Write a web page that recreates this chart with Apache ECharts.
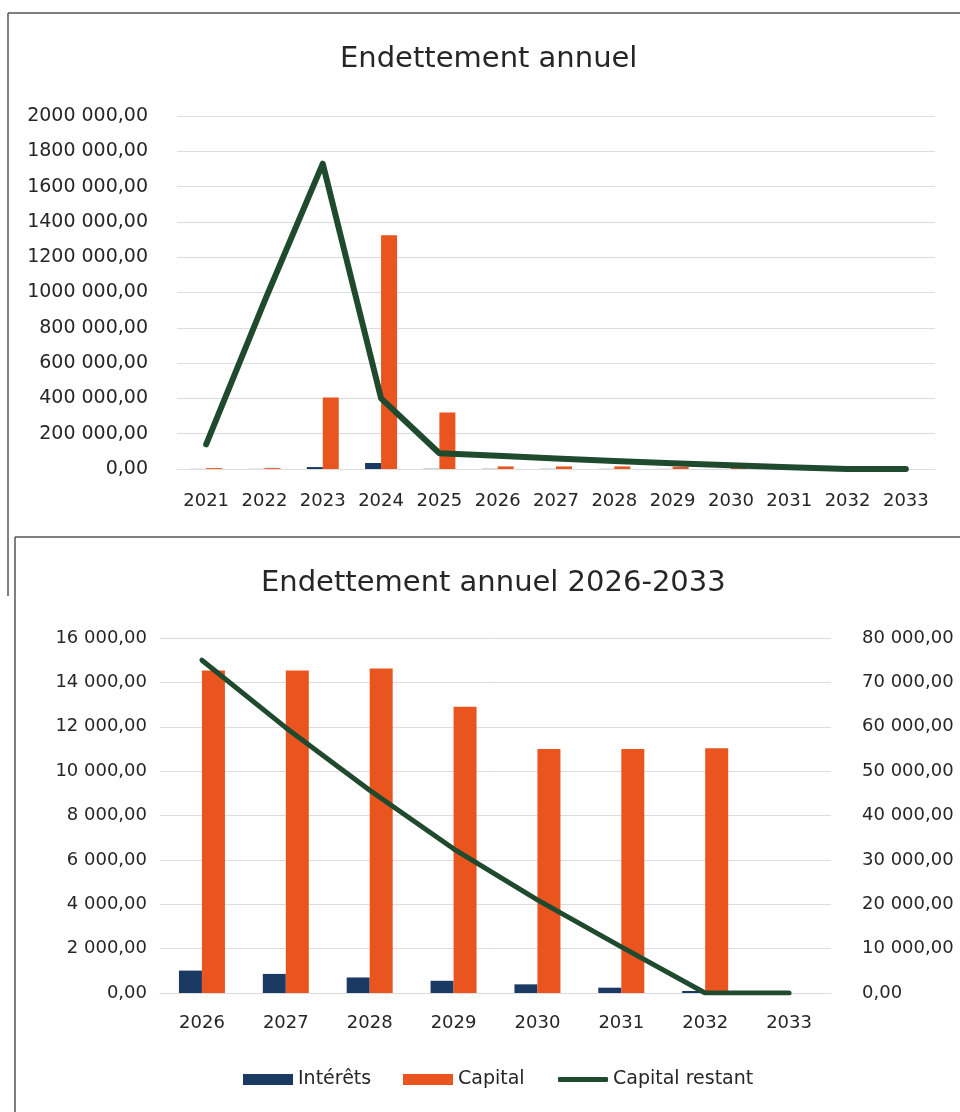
<!DOCTYPE html>
<html>
<head>
<meta charset="utf-8">
<script src="https://cdn.jsdelivr.net/npm/echarts@6/dist/echarts.min.js"></script>
<style>
html,body{margin:0;padding:0;background:#fff;}
#c{width:960px;height:1112px;}
</style>
</head>
<body>
<div id="c"></div>
<script>
// ---- Data ----
const yearsAll = ['2021','2022','2023','2024','2025','2026','2027','2028','2029','2030','2031','2032','2033'];
const interetsAll = [500, 500, 11000, 34000, 1200, 1010, 860, 700, 550, 390, 240, 90, 0];
const capitalAll = [5000, 5000, 405000, 1325000, 320000, 14540, 14540, 14630, 12900, 11000, 11000, 11030, 0];
const restantAll = [140000, 950000, 1730000, 400000, 89000, 75000, 59800, 45700, 32500, 21000, 10400, 0, 0];

const years2 = ['2026','2027','2028','2029','2030','2031','2032','2033'];
const interets2 = [1010, 860, 700, 550, 390, 240, 90, 0];
const capital2 = [14540, 14540, 14630, 12900, 11000, 11000, 11030, 0];
const restant2 = [75000, 59800, 45700, 32500, 21000, 10400, 0, 0];

const title1 = 'Endettement annuel';
const title2 = 'Endettement annuel 2026-2033';
const seriesNames = ['Intérêts', 'Capital', 'Capital restant'];

// ---- Styles ----
const C_INT = '#1B3A63';
const C_CAP = '#E9541F';
const C_RES = '#1F4A2E';
const FONT = 'DejaVu Sans';
const TXT = '#262626';
const GRID = '#DCDCDC';

function fmt(v) {
  if (v === 0) return '0,00';
  return Math.floor(v / 1000) + ' 000,00';
}

const chart = echarts.init(document.getElementById('c'), null, {renderer: 'canvas'});

const axisLabelX = {fontFamily: FONT, fontSize: 18, color: TXT, interval: 0};
const legendText = {fontFamily: FONT, fontSize: 19, color: TXT};

chart.setOption({
  animation: false,
  backgroundColor: '#fff',
  textStyle: {fontFamily: FONT},
  title: [
    {text: title1, left: 335, top: 40, textStyle: {fontFamily: FONT, fontSize: 29, fontWeight: 'normal', color: TXT}},
    {text: title2, left: 256, top: 564, textStyle: {fontFamily: FONT, fontSize: 29, fontWeight: 'normal', color: TXT}}
  ],
  legend: [
    {data: [seriesNames[0]], left: 238, top: 1065, icon: 'rect', itemWidth: 50, itemHeight: 11, textStyle: legendText},
    {data: [seriesNames[1]], left: 398, top: 1065, icon: 'rect', itemWidth: 50, itemHeight: 11, textStyle: legendText},
    {data: [seriesNames[2]], left: 553, top: 1065, icon: 'roundRect', itemWidth: 50, itemHeight: 5, textStyle: legendText}
  ],
  graphic: [
    {type: 'line', shape: {x1: 8, y1: 13, x2: 960, y2: 13}, style: {stroke: '#555', lineWidth: 1.5}, silent: true},
    {type: 'line', shape: {x1: 8, y1: 13, x2: 8, y2: 596}, style: {stroke: '#555', lineWidth: 1.5}, silent: true},
    {type: 'line', shape: {x1: 15, y1: 537, x2: 960, y2: 537}, style: {stroke: '#555', lineWidth: 1.5}, silent: true},
    {type: 'line', shape: {x1: 15, y1: 537, x2: 15, y2: 1112}, style: {stroke: '#555', lineWidth: 1.5}, silent: true}
  ],
  grid: [
    {left: 177, right: 25, top: 116, height: 353, containLabel: false},
    {left: 160, right: 129, top: 638, height: 355, containLabel: false}
  ],
  xAxis: [
    {type: 'category', gridIndex: 0, data: yearsAll,
     axisTick: {show: false}, axisLine: {lineStyle: {color: GRID, width: 1}},
     axisLabel: Object.assign({margin: 23}, axisLabelX)},
    {type: 'category', gridIndex: 1, data: years2,
     axisTick: {show: false}, axisLine: {lineStyle: {color: GRID, width: 1}},
     axisLabel: Object.assign({margin: 21}, axisLabelX)}
  ],
  yAxis: [
    {type: 'value', gridIndex: 0, min: 0, max: 2000000, interval: 200000,
     axisLine: {show: false}, axisTick: {show: false},
     splitLine: {lineStyle: {color: GRID, width: 1}},
     axisLabel: {margin: 29, fontFamily: FONT, fontSize: 19, color: TXT, formatter: fmt}},
    {type: 'value', gridIndex: 1, min: 0, max: 16000, interval: 2000,
     axisLine: {show: false}, axisTick: {show: false},
     splitLine: {lineStyle: {color: GRID, width: 1}},
     axisLabel: {margin: 13, fontFamily: FONT, fontSize: 18, color: TXT, formatter: fmt}},
    {type: 'value', gridIndex: 1, position: 'right', min: 0, max: 80000, interval: 10000,
     axisLine: {show: false}, axisTick: {show: false},
     splitLine: {show: false},
     axisLabel: {margin: 31, fontFamily: FONT, fontSize: 18, color: TXT, formatter: fmt}}
  ],
  series: [
    {name: seriesNames[0], type: 'bar', xAxisIndex: 0, yAxisIndex: 0, data: interetsAll,
     barWidth: 16, barGap: '0%', itemStyle: {color: C_INT}},
    {name: seriesNames[1], type: 'bar', xAxisIndex: 0, yAxisIndex: 0, data: capitalAll,
     barWidth: 16, barGap: '0%', itemStyle: {color: C_CAP}},
    {name: seriesNames[2], type: 'line', xAxisIndex: 0, yAxisIndex: 0, data: restantAll,
     symbol: 'none', lineStyle: {color: C_RES, width: 6, cap: 'round', join: 'round'}, itemStyle: {color: C_RES}},

    {name: seriesNames[0], type: 'bar', xAxisIndex: 1, yAxisIndex: 1, data: interets2,
     barWidth: 23, barGap: '0%', itemStyle: {color: C_INT}},
    {name: seriesNames[1], type: 'bar', xAxisIndex: 1, yAxisIndex: 1, data: capital2,
     barWidth: 23, barGap: '0%', itemStyle: {color: C_CAP}},
    {name: seriesNames[2], type: 'line', xAxisIndex: 1, yAxisIndex: 2, data: restant2,
     symbol: 'none', lineStyle: {color: C_RES, width: 5, cap: 'round', join: 'round'}, itemStyle: {color: C_RES}}
  ]
});
</script>
</body>
</html>
